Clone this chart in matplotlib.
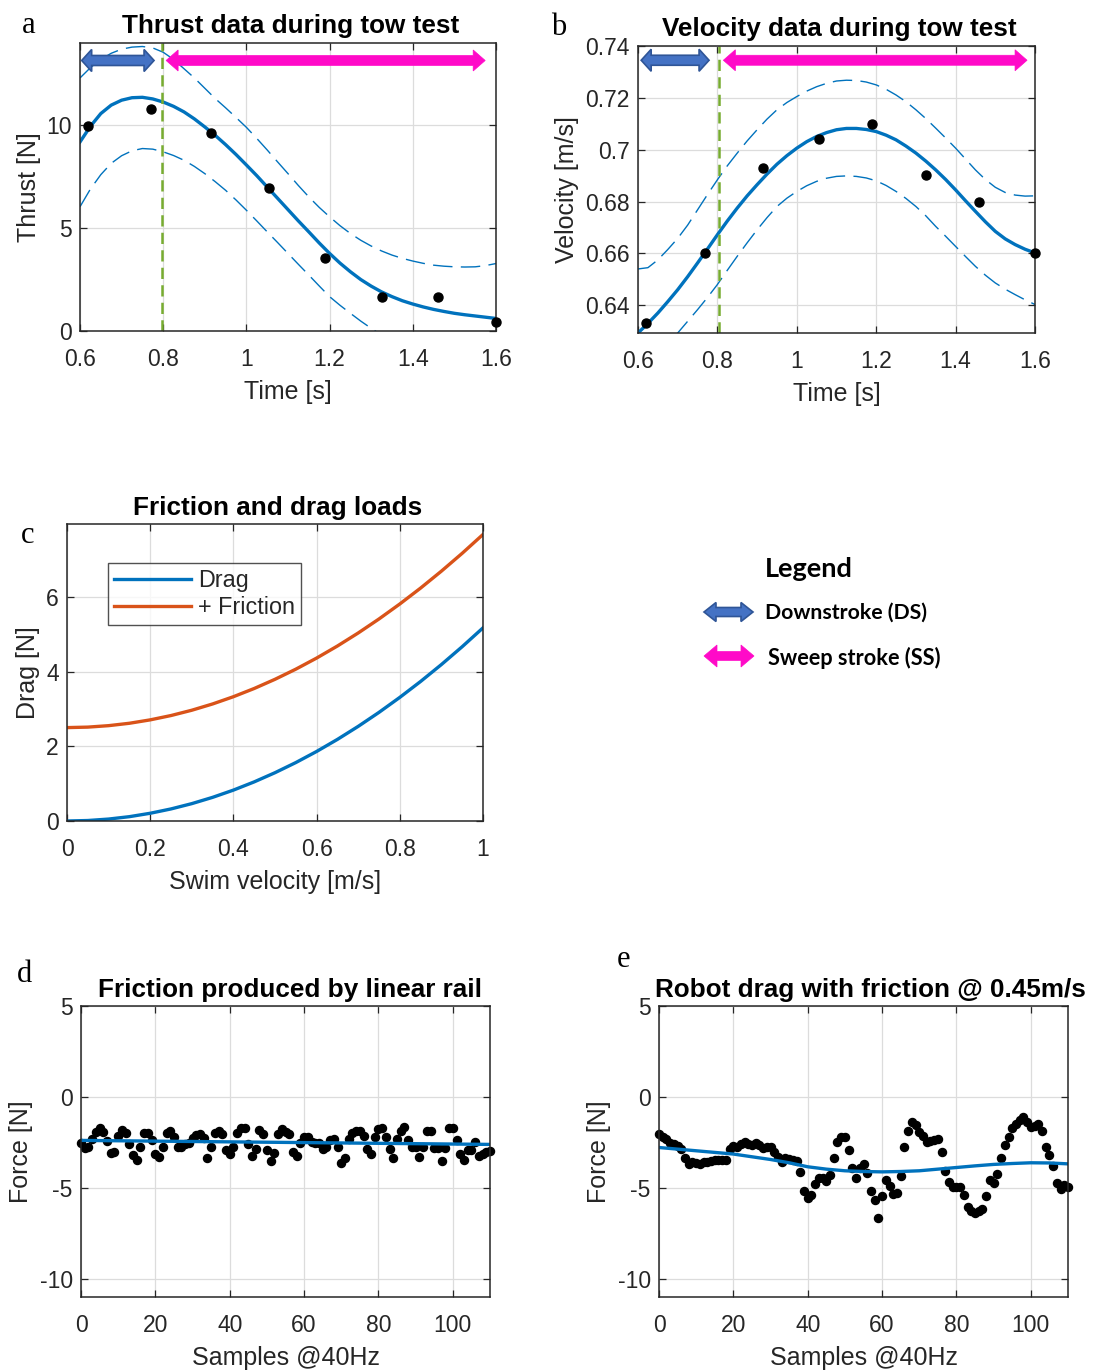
import numpy as np
import matplotlib
matplotlib.use("Agg")
import matplotlib.pyplot as plt
from matplotlib.patches import Polygon

# ---------------- data ----------------
# (a, b) tow test samples
tow_time = [0.62, 0.77, 0.915, 1.055, 1.19, 1.325, 1.46, 1.6]
tow_thrust = [9.97, 10.81, 9.64, 6.96, 3.56, 1.67, 1.67, 0.45]
tow_velocity = [0.6332, 0.6602, 0.6931, 0.7041, 0.7100, 0.6901, 0.6800, 0.6602]

# fitted curves with prediction bounds, sampled every 0.025 s
fit_time = [0.600, 0.625, 0.650, 0.675, 0.700, 0.725, 0.750, 0.775, 0.800, 0.825,
            0.850, 0.875, 0.900, 0.925, 0.950, 0.975, 1.000, 1.025, 1.050, 1.075,
            1.100, 1.125, 1.150, 1.175, 1.200, 1.225, 1.250, 1.275, 1.300, 1.325,
            1.350, 1.375, 1.400, 1.425, 1.450, 1.475, 1.500, 1.525, 1.550, 1.575,
            1.600]
thrust_fit = [9.19, 9.95, 10.57, 10.98, 11.22, 11.34, 11.36, 11.28, 11.13, 10.92,
              10.65, 10.31, 9.92, 9.51, 9.06, 8.58, 8.07, 7.55, 7.00, 6.45,
              5.90, 5.35, 4.82, 4.28, 3.77, 3.30, 2.88, 2.50, 2.18, 1.90,
              1.67, 1.47, 1.31, 1.17, 1.05, 0.95, 0.86, 0.79, 0.73, 0.67,
              0.61]
thrust_upper = [12.30, 12.80, 13.20, 13.50, 13.70, 13.80, 13.83, 13.76, 13.55, 13.20,
                12.75, 12.30, 11.80, 11.30, 10.85, 10.38, 9.90, 9.36, 8.80, 8.22,
                7.65, 7.07, 6.52, 6.01, 5.55, 5.12, 4.74, 4.41, 4.13, 3.89,
                3.69, 3.53, 3.40, 3.29, 3.20, 3.15, 3.12, 3.11, 3.12, 3.18,
                3.28]
thrust_lower = [6.04, 6.90, 7.60, 8.15, 8.52, 8.76, 8.87, 8.84, 8.71, 8.53,
                8.30, 8.00, 7.65, 7.26, 6.84, 6.37, 5.87, 5.35, 4.82, 4.30,
                3.77, 3.24, 2.72, 2.19, 1.67, 1.25, 0.86, 0.48, 0.13, -0.20,
                -0.50, -0.78, -1.00, -1.20, -1.40, -1.55, -1.70, -1.80, -1.90, -1.95,
                -2.00]
velocity_fit = [0.6293, 0.6330, 0.6370, 0.6414, 0.6460, 0.6510, 0.6563, 0.6617, 0.6672, 0.6725,
                0.6775, 0.6822, 0.6865, 0.6906, 0.6944, 0.6977, 0.7006, 0.7031, 0.7051, 0.7066,
                0.7077, 0.7082, 0.7082, 0.7078, 0.7070, 0.7056, 0.7038, 0.7014, 0.6987, 0.6956,
                0.6922, 0.6885, 0.6845, 0.6803, 0.6762, 0.6722, 0.6685, 0.6656, 0.6634, 0.6616,
                0.6602]
velocity_upper = [0.6540, 0.6545, 0.6575, 0.6615, 0.6658, 0.6709, 0.6768, 0.6827, 0.6884, 0.6938,
                  0.6987, 0.7034, 0.7077, 0.7118, 0.7154, 0.7182, 0.7205, 0.7226, 0.7243, 0.7256,
                  0.7265, 0.7268, 0.7267, 0.7261, 0.7250, 0.7233, 0.7211, 0.7185, 0.7154, 0.7120,
                  0.7083, 0.7045, 0.7006, 0.6964, 0.6922, 0.6885, 0.6855, 0.6835, 0.6825, 0.6821,
                  0.6822]
velocity_lower = [0.6120, 0.6160, 0.6200, 0.6245, 0.6293, 0.6338, 0.6383, 0.6430, 0.6480, 0.6535,
                  0.6589, 0.6641, 0.6691, 0.6738, 0.6781, 0.6813, 0.6839, 0.6861, 0.6878, 0.6890,
                  0.6897, 0.6899, 0.6897, 0.6891, 0.6880, 0.6862, 0.6839, 0.6812, 0.6781, 0.6745,
                  0.6704, 0.6666, 0.6627, 0.6588, 0.6550, 0.6516, 0.6486, 0.6462, 0.6441, 0.6421,
                  0.6403]

# stroke phases (start, end) in seconds and the phase switch time
downstroke_a = (0.604, 0.778)
sweepstroke_a = (0.807, 1.574)
switch_a = 0.797
downstroke_b = (0.608, 0.779)
sweepstroke_b = (0.815, 1.580)
switch_b = 0.804

# (c) drag load vs swim velocity
swim_velocity = [0.00, 0.05, 0.10, 0.15, 0.20, 0.25, 0.30, 0.35, 0.40, 0.45, 0.50,
                 0.55, 0.60, 0.65, 0.70, 0.75, 0.80, 0.85, 0.90, 0.95, 1.00]
drag_load = [0.000, 0.013, 0.052, 0.116, 0.207, 0.323, 0.465, 0.633, 0.827, 1.047, 1.293,
             1.564, 1.861, 2.184, 2.533, 2.908, 3.309, 3.735, 4.188, 4.666, 5.170]
rail_friction = 2.5

# (d) linear rail friction, 40 Hz samples
rail_force = [-2.52, -2.79, -2.74, -2.33, -1.91, -1.69, -1.91, -2.41, -3.07, -3.01,
              -2.15, -1.82, -1.97, -2.59, -3.20, -3.44, -2.78, -1.97, -2.00, -2.37,
              -3.11, -3.29, -2.74, -2.00, -1.86, -2.19, -2.74, -2.78, -2.59, -2.52,
              -2.28, -2.10, -2.04, -2.28, -3.38, -2.78, -2.00, -1.86, -2.04, -2.92,
              -3.14, -2.74, -2.00, -1.73, -1.73, -2.59, -3.25, -2.89, -1.82, -2.04,
              -2.92, -3.51, -3.07, -2.04, -1.75, -1.93, -2.04, -3.01, -3.25, -2.56,
              -2.19, -2.22, -2.46, -2.56, -2.52, -2.89, -2.74, -2.37, -2.33, -2.74,
              -3.62, -3.38, -2.33, -2.00, -1.86, -1.86, -2.15, -2.89, -3.14, -2.22,
              -1.78, -1.73, -2.22, -2.89, -3.33, -2.33, -1.86, -1.64, -2.37, -2.74,
              -2.74, -3.29, -2.74, -1.86, -1.86, -2.83, -2.83, -3.51, -2.83, -1.73,
              -1.73, -2.37, -3.14, -3.44, -2.92, -2.92, -2.46, -3.25, -3.14, -3.01,
              -2.96]
rail_fit_samples = [0, 110]
rail_fit = [-2.39, -2.61]

# (e) robot drag with rail friction at 0.45 m/s
robot_force = [-2.06, -2.19, -2.33, -2.52, -2.61, -2.70, -2.85, -3.38, -3.66, -3.60,
               -3.62, -3.66, -3.60, -3.55, -3.51, -3.47, -3.47, -3.44, -3.44, -2.89,
               -2.70, -2.74, -2.61, -2.50, -2.61, -2.65, -2.56, -2.67, -2.83, -2.78,
               -2.76, -3.01, -3.29, -3.55, -3.38, -3.40, -3.44, -3.51, -4.12, -5.17,
               -5.53, -5.37, -4.80, -4.45, -4.43, -4.61, -4.30, -3.36, -2.46, -2.19,
               -2.22, -2.92, -3.93, -4.45, -3.93, -3.69, -4.17, -5.17, -5.64, -6.64,
               -5.46, -4.58, -4.87, -5.31, -5.26, -4.36, -2.78, -1.86, -1.36, -1.54,
               -1.91, -2.15, -2.46, -2.41, -2.37, -2.33, -3.05, -4.06, -4.67, -4.94,
               -4.94, -4.94, -5.40, -6.05, -6.29, -6.38, -6.27, -6.14, -5.46, -4.58,
               -4.72, -4.25, -3.35, -2.67, -2.19, -1.73, -1.49, -1.27, -1.12, -1.36,
               -1.64, -1.60, -1.49, -1.86, -2.74, -3.20, -3.81, -4.72, -5.04, -4.85,
               -4.94]
robot_fit_samples = [0, 10, 20, 30, 35, 40, 45, 50, 55, 60, 65, 70, 75, 80, 85, 90,
                     95, 100, 105, 110]
robot_fit = [-2.78, -2.96, -3.14, -3.44, -3.62, -3.84, -3.97, -4.06, -4.10, -4.12,
             -4.10, -4.06, -3.97, -3.88, -3.79, -3.71, -3.66, -3.62, -3.63, -3.68]

# ---------------- style ----------------
W, H = 1093, 1371
plt.rcParams['font.family'] = ['Liberation Sans', 'DejaVu Sans']
plt.rcParams['axes.unicode_minus'] = False
BLUE = '#0072BD'
ORANGE = '#D95319'
GREEN = '#77AC30'
SPINE = '#262626'
DS_FACE, DS_EDGE = '#4472C4', '#2F5597'
SS_FACE, SS_EDGE = '#FF0AC8', '#FF0AC8'
TICK_FS = 16.5
LABEL_FS = 18
TITLE_FS = 18.8

fig = plt.figure(figsize=(W / 100, H / 100), dpi=100)


def px_rect(left, top, right, bottom):
    return [left / W, 1 - bottom / H, (right - left) / W, (bottom - top) / H]


def style_axes(ax):
    ax.set_axisbelow(True)
    ax.grid(True, color='#dcdcdc', linewidth=0.9)
    ax.tick_params(direction='in', top=True, right=True, length=5, width=0.9,
                   colors=SPINE, labelsize=TICK_FS, labelcolor='#262626')
    ax.tick_params(axis='x', pad=12)
    ax.tick_params(axis='y', pad=6)
    for s in ax.spines.values():
        s.set_color(SPINE)
        s.set_linewidth(1.1)


def label_axes(ax, xlabel, ylabel, ypad=4):
    ax.set_xlabel(xlabel, fontsize=LABEL_FS, color='#262626', labelpad=7)
    ax.set_ylabel(ylabel, fontsize=LABEL_FS, color='#262626', labelpad=ypad)


def double_arrow(ax, x0, x1, y, shaft_px, head_px, headlen_px, fc, ec, lw=1.2):
    """Block arrow with heads at both ends, sized in pixels."""
    t = ax.transData
    (X0, Y), (X1, _) = t.transform([(x0, y), (x1, y)])
    s, h, L = shaft_px / 2, head_px / 2, headlen_px
    pts = [(X0, Y), (X0 + L, Y + h), (X0 + L, Y + s), (X1 - L, Y + s),
           (X1 - L, Y + h), (X1, Y), (X1 - L, Y - h), (X1 - L, Y - s),
           (X0 + L, Y - s), (X0 + L, Y - h)]
    data_pts = t.inverted().transform(pts)
    ax.add_patch(Polygon(data_pts, closed=True, facecolor=fc, edgecolor=ec,
                         linewidth=lw, zorder=6, clip_on=False))


dash_kw = dict(color=BLUE, linewidth=1.0, dashes=(14, 6))
green_kw = dict(color=GREEN, linewidth=1.8, linestyle=(0, (4.5, 2.5)))
time_ticks = [0.6, 0.8, 1.0, 1.2, 1.4, 1.6]
time_labels = ['0.6', '0.8', '1', '1.2', '1.4', '1.6']

# ---------------- (a) thrust ----------------
ax = fig.add_axes(px_rect(80, 43, 496, 331))
style_axes(ax)
ax.set_xlim(0.6, 1.6)
ax.set_ylim(0, 14)
ax.set_xticks(time_ticks)
ax.set_xticklabels(time_labels)
ax.set_yticks([0, 5, 10])
ax.plot(fit_time, thrust_upper, **dash_kw)
ax.plot(fit_time, thrust_lower, **dash_kw)
ax.plot(fit_time, thrust_fit, color=BLUE, linewidth=2.4)
ax.plot(tow_time, tow_thrust, 'o', color='black', markersize=6.5, clip_on=False, zorder=5)
ax.axvline(switch_a, **green_kw)
label_axes(ax, 'Time [s]', 'Thrust [N]')
double_arrow(ax, *downstroke_a, 13.15, 10, 22, 10, DS_FACE, DS_EDGE)
double_arrow(ax, *sweepstroke_a, 13.15, 10, 21, 12, SS_FACE, SS_EDGE, lw=0.5)

# ---------------- (b) velocity ----------------
ax = fig.add_axes(px_rect(638, 46, 1035, 333))
style_axes(ax)
ax.set_xlim(0.6, 1.6)
ax.set_ylim(0.6293, 0.74)
ax.set_xticks(time_ticks)
ax.set_xticklabels(time_labels)
ax.set_yticks([0.64, 0.66, 0.68, 0.70, 0.72, 0.74])
ax.set_yticklabels(['0.64', '0.66', '0.68', '0.7', '0.72', '0.74'])
ax.plot(fit_time, velocity_upper, **dash_kw)
ax.plot(fit_time, velocity_lower, **dash_kw)
ax.plot(fit_time, velocity_fit, color=BLUE, linewidth=2.4)
ax.plot(tow_time, tow_velocity, 'o', color='black', markersize=6.5, clip_on=False, zorder=5)
ax.axvline(switch_b, **green_kw)
label_axes(ax, 'Time [s]', 'Velocity [m/s]')
double_arrow(ax, *downstroke_b, 0.7345, 10, 22, 10, DS_FACE, DS_EDGE)
double_arrow(ax, *sweepstroke_b, 0.7345, 10, 21, 12, SS_FACE, SS_EDGE, lw=0.5)

# ---------------- (c) drag loads ----------------
ax = fig.add_axes(px_rect(67, 524, 483, 821))
style_axes(ax)
ax.set_xlim(0, 1)
ax.set_ylim(0, 7.95)
ax.set_xticks([0, 0.2, 0.4, 0.6, 0.8, 1.0])
ax.set_xticklabels(['0', '0.2', '0.4', '0.6', '0.8', '1'])
ax.set_yticks([0, 2, 4, 6])
drag_arr = np.array(drag_load)
ax.plot(swim_velocity, drag_arr, color=BLUE, linewidth=2.4, label='Drag')
ax.plot(swim_velocity, drag_arr + rail_friction, color=ORANGE, linewidth=2.4,
        label='+ Friction')
label_axes(ax, 'Swim velocity [m/s]', 'Drag [N]')
leg = ax.legend(loc='upper left', bbox_to_anchor=(0.099, 0.869), borderaxespad=0,
                fontsize=16.8, frameon=True, fancybox=False, handlelength=3.3,
                handletextpad=0.3, borderpad=0.25, labelspacing=0.2)
leg.get_frame().set_edgecolor('#262626')
leg.get_frame().set_linewidth(1.0)
for t in leg.get_texts():
    t.set_color('#262626')

# ---------------- (d) rail friction ----------------
samples = np.arange(len(rail_force))
ax = fig.add_axes(px_rect(81, 1006, 490, 1297))
style_axes(ax)
ax.set_xlim(0, 110)
ax.set_ylim(-11, 5)
ax.set_xticks([0, 20, 40, 60, 80, 100])
ax.set_yticks([-10, -5, 0, 5])
ax.plot(samples, rail_force, 'o', color='black', markersize=5.8, clip_on=False)
ax.plot(rail_fit_samples, rail_fit, color=BLUE, linewidth=2.4)
label_axes(ax, 'Samples @40Hz', 'Force [N]', ypad=5)

# ---------------- (e) robot drag ----------------
samples_e = np.arange(len(robot_force))
ax = fig.add_axes(px_rect(659, 1006, 1068, 1297))
style_axes(ax)
ax.set_xlim(0, 110)
ax.set_ylim(-11, 5)
ax.set_xticks([0, 20, 40, 60, 80, 100])
ax.set_yticks([-10, -5, 0, 5])
ax.plot(samples_e, robot_force, 'o', color='black', markersize=5.8, clip_on=False)
ax.plot(robot_fit_samples, robot_fit, color=BLUE, linewidth=2.4)
label_axes(ax, 'Samples @40Hz', 'Force [N]', ypad=5)

# ---------------- titles and panel letters ----------------
def fig_text(x, y, s, **kw):
    fig.text(x / W, 1 - y / H, s, **kw)


title_kw = dict(fontsize=TITLE_FS, fontweight='bold', ha='center', va='baseline', color='black')
fig_text(291, 33, 'Thrust data during tow test', **title_kw)
fig_text(839, 36, 'Velocity data during tow test', **title_kw)
fig_text(278, 515, 'Friction and drag loads', **title_kw)
fig_text(290, 997, 'Friction produced by linear rail', **title_kw)
fig_text(870, 997, 'Robot drag with friction @ 0.45m/s', **title_kw)

letter_kw = dict(fontsize=22, family='Liberation Serif', ha='left', va='baseline')
fig_text(22, 33, 'a', **letter_kw)
fig_text(551, 35, 'b', **letter_kw)
fig_text(21, 543, 'c', **letter_kw)
fig_text(17, 982, 'd', **letter_kw)
fig_text(617, 967, 'e', **letter_kw)

# ---------------- stroke legend ----------------
ov = fig.add_axes([0, 0, 1, 1], zorder=-1)
ov.set_xlim(0, W)
ov.set_ylim(H, 0)
ov.axis('off')


def icon_arrow(x0, x1, y, shaft, head, hl, fc, ec, lw):
    s, h = shaft / 2, head / 2
    pts = [(x0, y), (x0 + hl, y - h), (x0 + hl, y - s), (x1 - hl, y - s),
           (x1 - hl, y - h), (x1, y), (x1 - hl, y + h), (x1 - hl, y + s),
           (x0 + hl, y + s), (x0 + hl, y + h)]
    ov.add_patch(Polygon(pts, closed=True, facecolor=fc, edgecolor=ec, linewidth=lw))


icon_arrow(704, 753, 612, 9, 19, 12, DS_FACE, DS_EDGE, 1.2)
icon_arrow(704, 754, 656, 9, 22, 13, SS_FACE, SS_EDGE, 0.5)
leg_kw = dict(family='Lato', fontweight='bold', va='baseline', ha='left', color='black')
ov.text(765, 577, 'Legend', fontsize=19.5, **leg_kw)
ov.text(765, 619, 'Downstroke (DS)', fontsize=15.3, **leg_kw)
ov.text(768, 665, 'Sweep stroke (SS)', fontsize=15.6, **leg_kw)

fig.savefig('out.png', dpi=100)
